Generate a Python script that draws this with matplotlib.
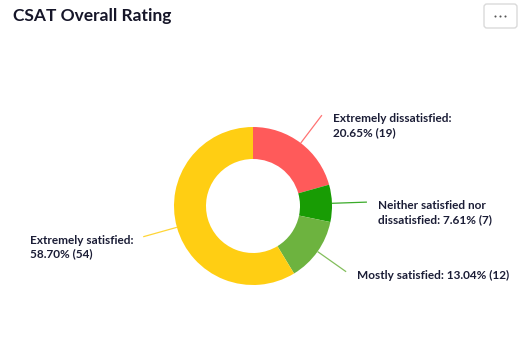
import textwrap
import numpy as np
import matplotlib.pyplot as plt
from matplotlib.patches import FancyBboxPatch

# chart data
title = 'CSAT Overall Rating'
names = ['Extremely dissatisfied', 'Neither satisfied nor dissatisfied',
         'Mostly satisfied', 'Extremely satisfied']
counts = [19, 7, 12, 54]
percents = [20.65, 7.61, 13.04, 58.70]
colors = ['#ff5a5a', '#189c04', '#6db33f', '#ffce13']
wraps = [23, 23, 40, 20]

W, H = 529, 355
cx, cy = 253, H - 206
r_out, r_in = 79, 47
txt_col = '#1b1d36'
font = ['Lato', 'DejaVu Sans']

fig = plt.figure(figsize=(W / 100, H / 100), dpi=100)
ax = fig.add_axes([0, 0, 1, 1])

wedges, _ = ax.pie(counts, colors=colors, startangle=90, counterclock=False,
                   center=(cx, cy), radius=r_out,
                   wedgeprops=dict(width=r_out - r_in, linewidth=0))

for w, name, n, p, col, wr in zip(wedges, names, counts, percents, colors, wraps):
    ang = np.deg2rad((w.theta1 + w.theta2) / 2)
    x0, y0 = cx + r_out * np.cos(ang), cy + r_out * np.sin(ang)
    x1, y1 = cx + 114 * np.cos(ang), cy + 114 * np.sin(ang)
    ax.plot([x0, x1], [y0, y1], color=col, lw=0.9, alpha=0.85, solid_capstyle='butt')
    txt = '\n'.join(textwrap.wrap(f'{name}: {p:.2f}% ({n})', wr))
    if np.cos(ang) >= 0:
        ax.text(x1 + 11, y1 + 2, txt, ha='left', va='top', fontsize=8.5,
                fontweight='bold', color=txt_col, family=font, linespacing=1.3)
    else:
        ax.text(x1 - 10, y1 + 2, txt, ha='right', va='top', fontsize=8.5,
                multialignment='left', fontweight='bold', color=txt_col,
                family=font, linespacing=1.3)

ax.text(13, H - 16, title, ha='left', va='center', fontsize=12.5,
        fontweight='bold', color='#161629', family=font)

# menu button
ax.add_patch(FancyBboxPatch((484, H - 28), 33, 24,
                            boxstyle='round,pad=0,rounding_size=3',
                            facecolor='white', edgecolor='#dadada', lw=1))
ax.scatter([495, 500, 505], [H - 16] * 3, s=2.2, color='#555555', linewidths=0)

ax.set_xlim(0, W)
ax.set_ylim(0, H)
ax.set_aspect('auto')
ax.axis('off')

fig.savefig('out.png', dpi=100, facecolor='white')
